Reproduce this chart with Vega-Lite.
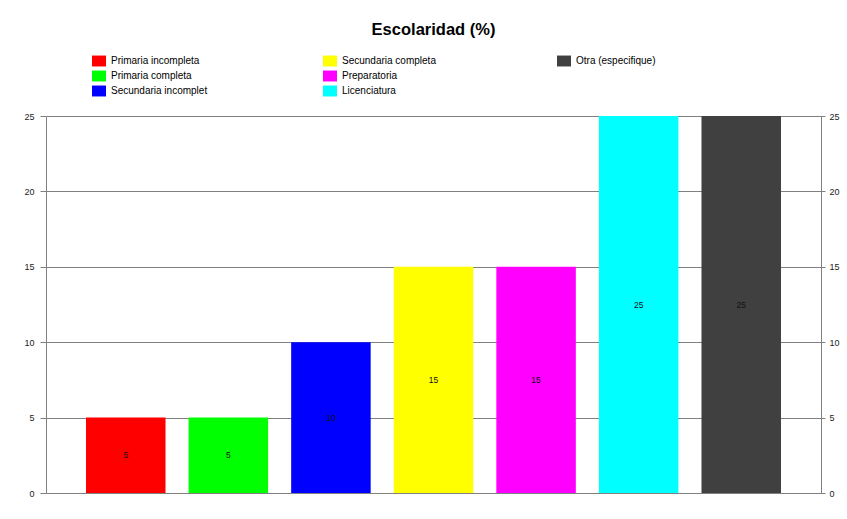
{
  "$schema": "https://vega.github.io/schema/vega-lite/v6.json",
  "width": 775,
  "height": 377,
  "autosize": {"type": "none"},
  "padding": {"left": 46, "top": 116, "right": 26, "bottom": 26},
  "background": "white",
  "title": {
    "text": "Escolaridad (%)",
    "font": "Liberation Sans",
    "fontSize": 16.5,
    "fontWeight": "bold",
    "color": "black",
    "anchor": "middle",
    "offset": 16
  },
  "config": {
    "view": {"stroke": null},
    "font": "Liberation Sans",
    "legend": {
      "title": null,
      "orient": "none",
      "symbolType": "M-1,-0.78H1V0.78H-1Z",
      "symbolSize": 196,
      "symbolStrokeWidth": 0,
      "symbolOpacity": 1,
      "labelFont": "Liberation Sans",
      "labelFontSize": 10,
      "labelColor": "black",
      "labelOffset": 5,
      "rowPadding": 2,
      "padding": 0
    }
  },
  "data": {
    "values": [
      {"nivel": "Primaria incompleta", "pct": 5},
      {"nivel": "Primaria completa", "pct": 5},
      {"nivel": "Secundaria incomplet", "pct": 10},
      {"nivel": "Secundaria completa", "pct": 15},
      {"nivel": "Preparatoria", "pct": 15},
      {"nivel": "Licenciatura", "pct": 25},
      {"nivel": "Otra (especifique)", "pct": 25}
    ]
  },
  "encoding": {
    "x": {
      "field": "nivel",
      "type": "nominal",
      "axis": null,
      "scale": {
        "domain": ["Primaria incompleta", "Primaria completa", "Secundaria incomplet", "Secundaria completa", "Preparatoria", "Licenciatura", "Otra (especifique)"],
        "paddingInner": 0.225,
        "paddingOuter": 0.39
      }
    }
  },
  "layer": [
    {
      "encoding": {
        "y": {
          "field": "pct",
          "type": "quantitative",
          "scale": {"domain": [0, 25], "nice": false},
          "axis": {
            "orient": "left",
            "values": [0, 5, 10, 15, 20, 25],
            "title": null,
            "grid": true,
            "gridColor": "#808080",
            "gridOpacity": 1,
            "domainColor": "#808080",
            "tickColor": "#808080",
            "tickSize": 6,
            "labelPadding": 6,
            "labelFont": "Liberation Sans",
            "labelFontSize": 9,
            "labelColor": "#222222"
          }
        }
      },
      "layer": [
        {
          "transform": [{"filter": {"field": "nivel", "oneOf": ["Primaria incompleta", "Primaria completa", "Secundaria incomplet"]}}],
          "mark": {"type": "bar"},
          "encoding": {
            "color": {
              "field": "nivel",
              "type": "nominal",
              "scale": {"domain": ["Primaria incompleta", "Primaria completa", "Secundaria incomplet"], "range": ["#ff0000", "#00ff00", "#0000ff"]},
              "legend": {"legendX": 46, "legendY": -62}
            }
          }
        },
        {
          "transform": [{"filter": {"field": "nivel", "oneOf": ["Secundaria completa", "Preparatoria", "Licenciatura"]}}],
          "mark": {"type": "bar"},
          "encoding": {
            "color": {
              "field": "nivel",
              "type": "nominal",
              "scale": {"domain": ["Secundaria completa", "Preparatoria", "Licenciatura"], "range": ["#ffff00", "#ff00ff", "#00ffff"]},
              "legend": {"legendX": 277, "legendY": -62}
            }
          }
        },
        {
          "transform": [{"filter": {"field": "nivel", "oneOf": ["Otra (especifique)"]}}],
          "mark": {"type": "bar"},
          "encoding": {
            "color": {
              "field": "nivel",
              "type": "nominal",
              "scale": {"domain": ["Otra (especifique)"], "range": ["#404040"]},
              "legend": {"legendX": 511, "legendY": -62}
            }
          }
        }
      ],
      "resolve": {"scale": {"color": "independent"}, "legend": {"color": "independent"}}
    },
    {
      "mark": {"type": "text", "font": "Liberation Sans", "fontSize": 8.5, "color": "#111111"},
      "encoding": {
        "y": {"field": "pct", "type": "quantitative", "scale": {"domain": [0, 50], "nice": false}, "axis": null},
        "text": {"field": "pct", "type": "quantitative"}
      }
    },
    {
      "mark": {"type": "tick", "opacity": 0},
      "encoding": {
        "y": {
          "field": "pct",
          "type": "quantitative",
          "scale": {"domain": [0, 25], "nice": false},
          "axis": {
            "orient": "right",
            "values": [0, 5, 10, 15, 20, 25],
            "title": null,
            "grid": false,
            "domainColor": "#808080",
            "tickColor": "#808080",
            "tickSize": 4,
            "labelPadding": 4,
            "labelFont": "Liberation Sans",
            "labelFontSize": 9,
            "labelColor": "#222222"
          }
        }
      }
    }
  ],
  "resolve": {"scale": {"y": "independent"}}
}
